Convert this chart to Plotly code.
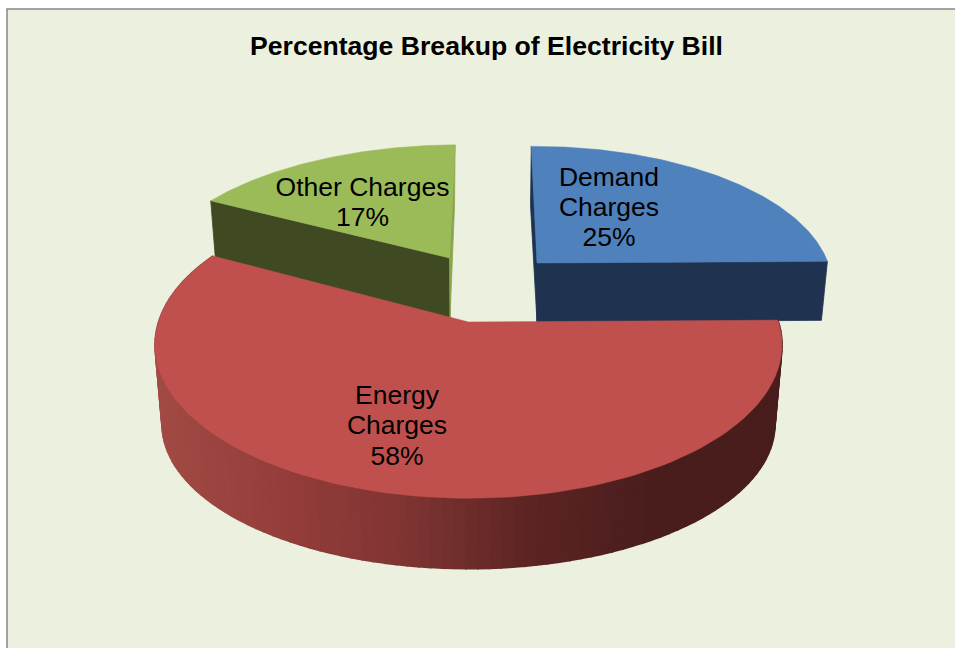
import math
import plotly.graph_objects as go

# Data
categories = ["Demand Charges", "Energy Charges", "Other Charges"]
values = [25, 58, 17]
title_text = "Percentage Breakup of Electricity Bill"

# Colours
top_colors = ["#4f81bd", "#c0504d", "#9bbb59"]
wall_colors = ["#1f3350", "#4a1d1d", "#404a22"]
side_colors = ["#1f3350", "#4a1d1d", "#8aa64e"]
BG = "#ebf0df"
BORDER = "#868686"
grad_x = [160, 300, 400, 530, 650, 790]
grad_c = [(162, 74, 68), (146, 60, 57), (128, 53, 51), (92, 36, 35), (74, 29, 29), (74, 29, 29)]

# Geometry: pixel frame, perspective factor, per-slice placement
W, H = 955, 648
Q = 0.149
ROT = 0.7
#            cx,    cy,   A,   B,   lean
TOP = {0: (537.0, 263.0, 291, 134, -3.0),
       1: (468.5, 322.0, 310, 150, 0.0),
       2: (449.5, 258.0, 295, 130, 10.0)}
BOT = {0: (537.0, 322.0, 285, 134, -4.0),
       1: (468.5, 403.0, 303, 141, 0.0),
       2: (450.0, 318.0, 289, 128, 8.7)}
label_lines = {0: [("Demand", 609, 179), ("Charges", 609, 209), ("%", 609, 239)],
               1: [("Energy", 397, 397), ("Charges", 397, 427), ("%", 397, 458)],
               2: [("Other Charges", 362.5, 189), ("%", 362.5, 219)]}


def project(par, theta):
    cx, cy, A, B, lean = par
    t = math.radians(theta - ROT)
    X, Y = math.sin(t), math.cos(t)
    w = 1 + Q * Y
    return cx + (A * X + lean * Y) / w, cy - B * Y / w


def arc(par, a0, a1, n=120):
    return [project(par, a0 + (a1 - a0) * i / n) for i in range(n + 1)]


def poly(fig, pts, color, lw=0.8):
    xs = [p[0] for p in pts] + [pts[0][0]]
    ys = [p[1] for p in pts] + [pts[0][1]]
    fig.add_trace(go.Scatter(x=xs, y=ys, mode="lines", fill="toself", fillcolor=color,
                             line=dict(color=color, width=lw), hoverinfo="skip", showlegend=False))


def grad_color(x):
    for i in range(len(grad_x) - 1):
        if x <= grad_x[i + 1]:
            f = max(0, (x - grad_x[i]) / (grad_x[i + 1] - grad_x[i]))
            c = [round(a + (b - a) * f) for a, b in zip(grad_c[i], grad_c[i + 1])]
            return "rgb(%d,%d,%d)" % tuple(c)
    return "rgb(%d,%d,%d)" % grad_c[-1]


total = sum(values)
spans = []
acc = 0
for v in values:
    spans.append((acc / total * 360, (acc + v) / total * 360))
    acc += v

fig = go.Figure()


def draw_slice(i):
    a0, a1 = spans[i]
    t, b = TOP[i], BOT[i]
    if i == 0:
        # far radial side, then front radial wall
        poly(fig, [project(t, a0), project(b, a0), (b[0], b[1]), (t[0], t[1])], side_colors[i])
        poly(fig, [(t[0], t[1]), project(t, a1), project(b, a1), (b[0], b[1])], wall_colors[i])
    elif i == 2:
        poly(fig, [(t[0], t[1]), project(t, a0), project(b, a0), (b[0], b[1])], wall_colors[i])
        poly(fig, [project(t, a1), project(b, a1), (b[0], b[1]), (t[0], t[1])], side_colors[i])
    else:
        n = 110
        for k in range(n):
            u0 = a0 + (a1 - a0) * k / n
            u1 = a0 + (a1 - a0) * (k + 1) / n
            p = [project(t, u0), project(t, u1), project(b, u1), project(b, u0)]
            poly(fig, p, grad_color(project(b, (u0 + u1) / 2)[0]), lw=1.6)
    poly(fig, [(t[0], t[1])] + arc(t, a0, a1), top_colors[i], lw=0.5)


for i in (2, 0, 1):
    draw_slice(i)

for i, lines in label_lines.items():
    for txt, x, y in lines:
        s = f"{values[i]}%" if txt == "%" else txt
        fig.add_trace(go.Scatter(x=[x], y=[y], mode="text", text=[s], textposition="middle center",
                                 textfont=dict(family="Liberation Sans", size=26.5, color="#000000"),
                                 hoverinfo="skip", showlegend=False))

fig.add_trace(go.Scatter(x=[486.5], y=[48], mode="text", text=[f"<b>{title_text}</b>"],
                         textposition="middle center",
                         textfont=dict(family="Liberation Sans", size=26.6, color="#000000"),
                         hoverinfo="skip", showlegend=False))

fig.update_layout(
    width=W, height=H, margin=dict(l=0, r=0, t=0, b=0),
    paper_bgcolor="#ffffff", plot_bgcolor="#ffffff", showlegend=False,
    xaxis=dict(range=[0, W], visible=False, fixedrange=True),
    yaxis=dict(range=[H, 0], visible=False, fixedrange=True),
    shapes=[dict(type="rect", layer="below", x0=7, y0=9, x1=W + 20, y1=H + 20,
                 fillcolor=BG, line=dict(color=BORDER, width=1.5))],
)
fig.write_html("out.html", config={"displayModeBar": False},
               post_script="document.body.style.margin='0';")
